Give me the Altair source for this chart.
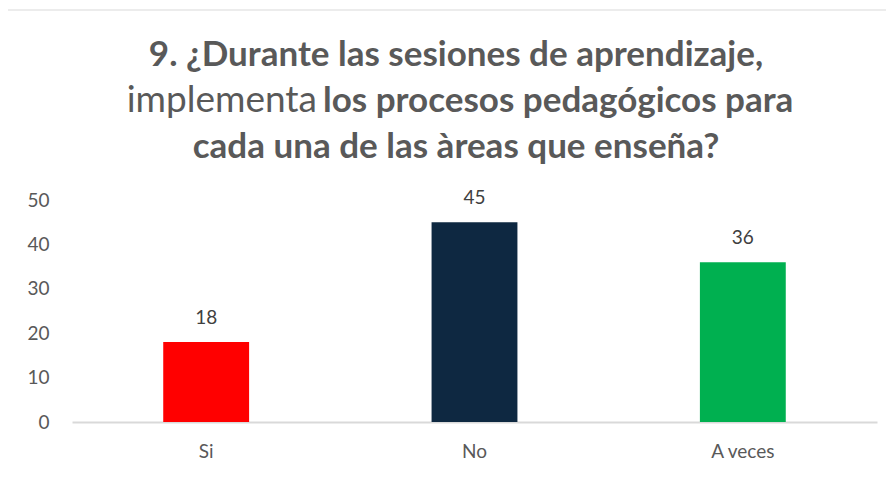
import altair as alt
import pandas as pd

categories = ["Si", "No", "A veces"]
values = [18, 45, 36]
bar_colors = ["#ff0000", "#0e2841", "#00b050"]
y_ticks = [0, 10, 20, 30, 40, 50]

title_line1 = "9. ¿Durante las sesiones de aprendizaje,"
title_line2_normal = "implementa"
title_line2_bold = "los procesos pedagógicos para"
title_line3 = "cada una de las àreas que enseña?"

FONT = "Lato"
df = pd.DataFrame({"cat": categories, "val": values, "color": bar_colors})

x_enc = alt.X(
    "cat:N",
    sort=categories,
    scale=alt.Scale(paddingInner=0.68, paddingOuter=0.34),
    axis=alt.Axis(
        title=None, labelAngle=0, ticks=False, domainColor="#d9d9d9", domainWidth=2,
        labelFont=FONT, labelFontSize=19, labelColor="#595959", labelPadding=20,
    ),
)
y_enc = alt.Y(
    "val:Q",
    scale=alt.Scale(domain=[0, 50], nice=False),
    axis=alt.Axis(
        title=None, values=y_ticks, grid=False, domain=False, ticks=False,
        labelFont=FONT, labelFontSize=19, labelColor="#595959", labelPadding=23,
    ),
)

bars = alt.Chart(df).mark_bar().encode(
    x=x_enc, y=y_enc, color=alt.Color("color:N", scale=None, legend=None)
)
labels = alt.Chart(df).mark_text(
    font=FONT, fontSize=19, color="#404040", baseline="middle", dy=-24
).encode(x=alt.X("cat:N", sort=categories), y="val:Q", text="val:Q")


def title_piece(txt, xpos, ypos, weight, align, size):
    return alt.Chart(pd.DataFrame({"t": [txt]})).mark_text(
        font=FONT, fontSize=size, fontWeight=weight, color="#595959",
        align=align, baseline="alphabetic",
    ).encode(text="t:N", x=alt.value(xpos), y=alt.value(ypos))


frame = alt.Chart(pd.DataFrame({"t": [0]})).mark_rect(
    filled=False, stroke="#d9d9d9", strokeWidth=1
).encode(x=alt.value(-65), x2=alt.value(900), y=alt.value(-190), y2=alt.value(400))

chart = alt.layer(
    frame,
    bars,
    labels,
    title_piece(title_line1, 384, -134, "bold", "center", 35),
    title_piece(title_line2_normal, 245, -88, "normal", "right", 37),
    title_piece(title_line2_bold, 251, -88, "bold", "left", 35),
    title_piece(title_line3, 384, -42, "bold", "center", 35),
).properties(
    width=805,
    height=222,
    autosize=alt.AutoSizeParams(type="none"),
    padding={"left": 64, "top": 192, "right": 9, "bottom": 40},
).configure_view(stroke=None)

chart.save("out.html", embed_options={"renderer": "svg", "actions": False})
